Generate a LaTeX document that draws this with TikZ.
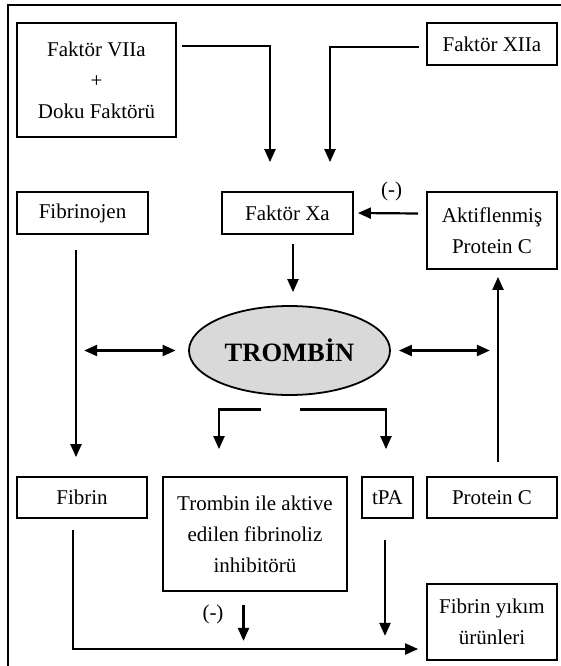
\documentclass[tikz,border=0pt]{standalone}
\usepackage{fontspec}
\setmainfont{Liberation Serif}
\usetikzlibrary{positioning,shapes.geometric,arrows.meta}
\begin{document}
\begin{tikzpicture}[x=1pt,y=-1pt,>={Triangle[length=13pt,width=11pt]},font=\fontsize{21}{31}\selectfont]

\tikzstyle{box}=[draw=black,line width=1.8pt,align=center,inner sep=0pt,minimum height=42pt]
\tikzstyle{arr}=[line width=2.2pt]

    \useasboundingbox (0,0) rectangle (560,666);
    \draw[line width=1.5pt] (8,5) rectangle (564,670);

    % upper row
    \node[box,minimum width=159pt,minimum height=114pt] (VII) at (96.5,80) {Faktör VIIa\\+\\Doku Faktörü};
    \node[box,minimum width=130pt] (XII) at (492,44) {Faktör XIIa};

    % middle row
    \node[box,minimum width=131pt] (Fgen) at (82.5,213) {Fibrinojen};
    \node[box,minimum width=131pt] (Xa) at (287.5,213) {Faktör Xa};
    \node[box,minimum width=130pt,minimum height=77pt] (APC) at (492,230.5) {Aktiflenmiş\\Protein C};
    \node[ellipse,draw=black,line width=1.8pt,fill=gray!30,inner sep=0pt,
          minimum width=201pt,minimum height=89pt,font=\fontsize{26.5}{30}\selectfont\bfseries] (TR) at (289.5,350.5) {TROMBİN};

    % lower row
    \node[box,minimum width=130pt,minimum height=41pt] (Fib) at (82,497.5) {Fibrin};
    \node[box,minimum width=184pt,minimum height=114pt] (Tafi) at (255,534) {Trombin ile aktive\\edilen fibrinoliz\\inhibitörü};
    \node[box,minimum width=51pt,minimum height=41pt] (tPA) at (387.5,497.5) {tPA};
    \node[box,minimum width=130pt,minimum height=41pt] (PC) at (492,497.5) {Protein C};
    \node[box,minimum width=130pt,minimum height=76pt] (FDP) at (492,622) {Fibrin yıkım\\ürünleri};

\draw[arr,->] ([xshift=5.5pt,yshift=-24pt]VII.north east) -| ([xshift=-17.5pt,yshift=29pt]Xa.north);
\draw[arr,->] ([xshift=-7.5pt,yshift=-3pt]XII.west) -| ([xshift=42.5pt,yshift=29pt]Xa.north);
\draw[arr,->] ([xshift=-8pt,yshift=17pt]APC.west) -- node[pos=0.44,above=11pt,inner sep=0pt] (neg1) {(-)} ([xshift=4pt]Xa.east);
\draw[arr,->] ([xshift=5.5pt,yshift=-9pt]Xa.south) -- ([xshift=3.5pt,yshift=13pt]TR.north);

\draw[arr,<->] ([xshift=-104pt]TR.west) -- ([xshift=-12.5pt]TR.west);
\draw[arr,<->] ([xshift=8pt]TR.east) -- ([xshift=99pt]TR.east);

\draw[arr,->] ([xshift=-6.5pt,yshift=-15pt]Fgen.south) -- ([xshift=-6pt,yshift=19pt]Fib.north);
\draw[arr,->] ([xshift=6pt,yshift=14pt]PC.north) -- ([xshift=6pt,yshift=-7pt]APC.south);

\draw[arr,->] ([xshift=-29pt,yshift=-13.5pt]TR.south) -| ([xshift=-36pt,yshift=27pt]Tafi.north);
\draw[arr,->] ([xshift=10pt,yshift=-13.5pt]TR.south) -| ([xshift=-1.5pt,yshift=27pt]tPA.north);

\draw[arr,->] ([xshift=-9pt,yshift=-11pt]Fib.south) |- ([xshift=-8pt,yshift=-27pt]FDP.west);
\draw[arr,->] ([xshift=-11.5pt,yshift=-13pt]Tafi.south) -- ([xshift=-11.5pt,yshift=-49pt]Tafi.south);
    \node (neg2) at (213,614) {(-)};
\draw[arr,->] ([xshift=-2.5pt,yshift=-21pt]tPA.south) -- ([xshift=-2.5pt,yshift=-117pt]tPA.south);
\end{tikzpicture}
\end{document}
